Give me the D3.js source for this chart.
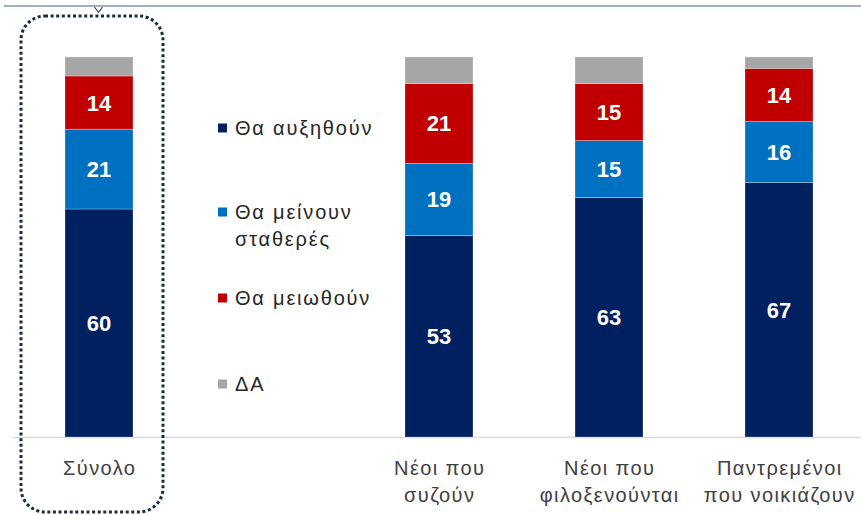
<!DOCTYPE html>
<html>
<head>
<meta charset="utf-8">
<script src="https://cdn.jsdelivr.net/npm/d3@7"></script>
<style>
  body { margin: 0; background: #fff; }
  text { font-family: "Liberation Sans", Arial, sans-serif; }
</style>
</head>
<body>
<svg class="svg"></svg>
<script>
// categories (empty slot holds the legend)
const categories = ['Σύνολο', 'legend', 'Νέοι που|συζούν', 'Νέοι που|φιλοξενούνται', 'Παντρεμένοι|που νοικιάζουν'];
const seriesNames = ['Θα αυξηθούν', 'Θα μείνουν|σταθερές', 'Θα μειωθούν', 'ΔΑ'];
const seriesColors = ['#002060', '#0070c0', '#c00000', '#a6a6a6'];
const increase = [60, null, 53, 63, 67];
const stable = [21, null, 19, 15, 16];
const decrease = [14, null, 21, 15, 14];
const dontKnow = [5, null, 7, 7, 3];

const width = 861;
const height = 515;

const svg = d3.select('.svg').attr('width', width).attr('height', height);

const rows = categories.map((c, i) => ({
  cat: c,
  increase: increase[i],
  stable: stable[i],
  decrease: decrease[i],
  dontKnow: dontKnow[i]
})).filter(d => d.increase !== null);

const keys = ['increase', 'stable', 'decrease', 'dontKnow'];
const stack = d3.stack().keys(keys)(rows);

const x = d3.scaleBand()
  .domain(categories)
  .range([14, 864])
  .paddingInner(0.6)
  .paddingOuter(0.3);

const y = d3.scaleLinear().domain([0, 100]).range([437, 57]);

// top rule with small caret
svg.append('line')
  .attr('x1', 4).attr('x2', width)
  .attr('y1', 6).attr('y2', 6)
  .attr('stroke', '#9fb1c9')
  .attr('stroke-width', 2);
svg.append('path')
  .attr('d', 'M94.5,7 L98.5,12.5 L102.5,7')
  .attr('fill', 'none')
  .attr('stroke', '#2f4a6e')
  .attr('stroke-width', 1.2);

// baseline
svg.append('line')
  .attr('x1', 13).attr('x2', width)
  .attr('y1', y(0) + 0.5).attr('y2', y(0) + 0.5)
  .attr('stroke', '#d9d9d9')
  .attr('stroke-width', 1.5);

const layer = svg.append('g')
  .selectAll('g')
  .data(stack)
  .join('g')
  .attr('fill', (d, i) => seriesColors[i]);

layer.selectAll('rect')
  .data(d => d)
  .join('rect')
  .attr('x', d => x(d.data.cat))
  .attr('width', x.bandwidth())
  .attr('y', d => y(d[1]))
  .attr('height', d => y(d[0]) - y(d[1]))
  .attr('stroke', '#ffffff')
  .attr('stroke-opacity', 0.35)
  .attr('stroke-width', 0.8);

// value labels (skip ΔΑ)
layer.filter((d, i) => i < 3)
  .selectAll('text')
  .data(d => d)
  .join('text')
  .attr('x', d => x(d.data.cat) + x.bandwidth() / 2)
  .attr('y', d => (y(d[0]) + y(d[1])) / 2)
  .attr('dy', '0.36em')
  .attr('text-anchor', 'middle')
  .attr('fill', '#fff')
  .attr('font-weight', 'bold')
  .attr('font-size', 22)
  .text(d => d[1] - d[0]);

// x labels
const xl = svg.append('g')
  .selectAll('text')
  .data(categories.filter(c => c !== 'legend'))
  .join('text')
  .attr('x', d => x(d) + x.bandwidth() / 2)
  .attr('y', 475)
  .attr('text-anchor', 'middle')
  .attr('fill', '#404040')
  .attr('font-size', 20)
  .attr('letter-spacing', 1.4);
xl.selectAll('tspan')
  .data(d => d.split('|'))
  .join('tspan')
  .attr('x', function() { return +d3.select(this.parentNode).attr('x') + 0.7; })
  .attr('dy', (d, i) => i === 0 ? 0 : 27)
  .text(d => d);

// legend
const legendY = [128, 212, 298, 384];
const lg = svg.append('g')
  .selectAll('g')
  .data(seriesNames)
  .join('g')
  .attr('transform', (d, i) => `translate(218,${legendY[i]})`);
lg.append('rect')
  .attr('x', 0).attr('y', -4.5)
  .attr('width', 9).attr('height', 9)
  .attr('fill', (d, i) => seriesColors[i]);
const lt = lg.append('text')
  .attr('x', 17)
  .attr('y', 0)
  .attr('fill', '#262626')
  .attr('font-size', 20)
  .attr('letter-spacing', 1.8);
lt.selectAll('tspan')
  .data(d => d.split('|'))
  .join('tspan')
  .attr('x', 17)
  .attr('dy', (d, i) => i === 0 ? '0.36em' : 27)
  .text(d => d);

// dotted highlight box around the total
svg.append('rect')
  .attr('x', 21).attr('y', 16)
  .attr('width', 142).attr('height', 496)
  .attr('rx', 24).attr('ry', 24)
  .attr('fill', 'none')
  .attr('stroke', '#1c2b3c')
  .attr('stroke-width', 3)
  .attr('stroke-dasharray', '3 2.6');
</script>
</body>
</html>
